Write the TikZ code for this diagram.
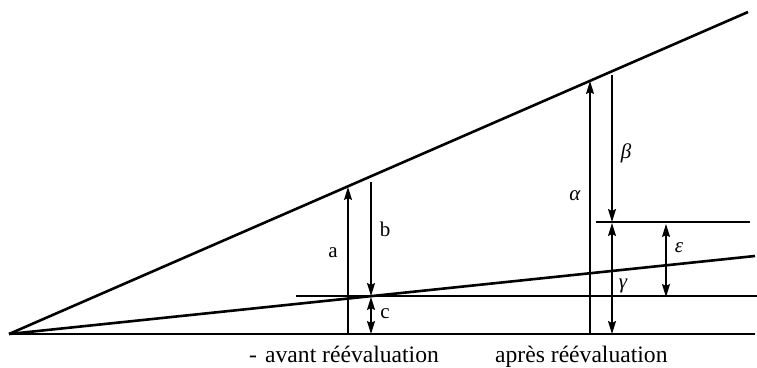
\documentclass[tikz,border=0pt]{standalone}
\usepackage{fontspec}
\setmainfont{Liberation Serif}
\usetikzlibrary{arrows.meta}
\begin{document}
\begin{tikzpicture}[x=1pt,y=-1pt,
  thick line/.style={line width=2.6pt},
  thin line/.style={line width=1.5pt},
  tip/.tip={Stealth[length=13pt,width=8pt,inset=2pt]},
  arr/.style={line width=1.4pt,-tip},
  darr/.style={line width=1.4pt,tip-tip},
  lbl/.style={font=\fontsize{21}{23}\selectfont},
  glbl/.style={font=\fontsize{21}{23}\selectfont\itshape},
  txt/.style={font=\fontsize{23.6}{26}\selectfont,inner sep=0pt,anchor=base west}]
\useasboundingbox (0,0) rectangle (757,367);
% main lines
\coordinate (O) at (9,334);
\coordinate (E) at (755,334);
\coordinate (U) at (748,12);
\coordinate (L) at (755,256);
\draw[thick line] (O) -- (E);
\draw[thick line] (O) -- (U);
\draw[thick line] (O) -- (L);
% horizontal helper lines
\coordinate (H1a) at (296,296);
\coordinate (H1b) at (757,296);
\coordinate (H2a) at (596,222);
\coordinate (H2b) at (750,222);
\draw[thin line] (H1a) -- (H1b);
\draw[thin line] (H2a) -- (H2b);
% before revaluation
\coordinate (a0) at (348,334);
\coordinate (a1) at (348,187);
\coordinate (b0) at (371,182);
\coordinate (b1) at (371,296);
\coordinate (c0) at (371,297);
\coordinate (c1) at (371,334);
\draw[arr] (a0) -- (a1);
\draw[arr] (b0) -- (b1);
\draw[darr] (c0) -- (c1);
\node[lbl] (la) at (333,253) {a};
\node[lbl] (lb) at (385,229) {b};
\node[lbl] (lc) at (385,314) {c};
% after revaluation
\coordinate (al0) at (590,334);
\coordinate (al1) at (590,81);
\coordinate (be0) at (612,75);
\coordinate (be1) at (612,222);
\coordinate (ga0) at (612,223);
\coordinate (ga1) at (612,334);
\coordinate (ep0) at (666,224);
\coordinate (ep1) at (666,297);
\draw[arr] (al0) -- (al1);
\draw[arr] (be0) -- (be1);
\draw[darr] (ga0) -- (ga1);
\draw[darr] (ep0) -- (ep1);
\node[glbl] (lal) at (575,196) {α};
\node[glbl] (lbe) at (626,153) {β};
\node[glbl] (lga) at (623,286) {γ};
\node[glbl] (lep) at (679,248) {ε};
% captions
\node[txt] (t0) at (249,362) {-};
\node[txt] (t1) at (265,362) {avant réévaluation};
\node[txt] (t2) at (495,362) {après réévaluation};
\end{tikzpicture}
\end{document}
